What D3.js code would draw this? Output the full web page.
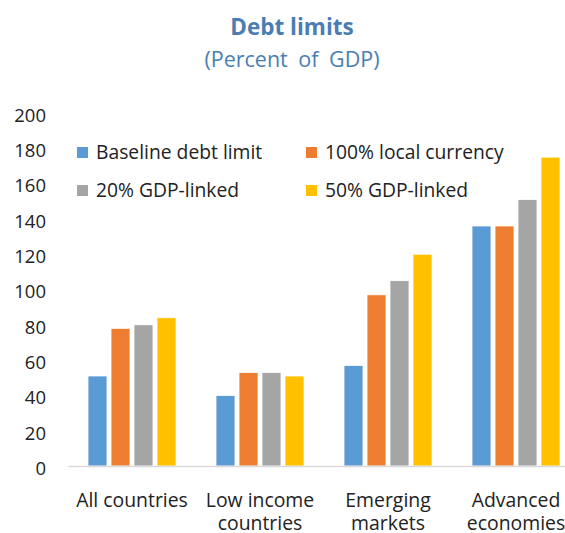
<!DOCTYPE html>
<html>
<head>
<meta charset="utf-8">
<script src="https://cdn.jsdelivr.net/npm/d3@7/dist/d3.min.js"></script>
<style>
  html, body { margin: 0; padding: 0; background: #fff; }
  svg { display: block; font-family: "Open Sans", "Noto Sans", sans-serif; }
</style>
</head>
<body>
<svg id="chart" width="565" height="533"></svg>
<script>
const title = "Debt limits";
const subtitle = "(Percent of GDP)";
const categories = [["All countries"], ["Low income", "countries"], ["Emerging", "markets"], ["Advanced", "economies"]];
const seriesNames = ["Baseline debt limit", "100% local currency", "20% GDP-linked", "50% GDP-linked"];
const seriesColors = ["#5B9BD5", "#ED7D31", "#A5A5A5", "#FFC000"];
const baseline = [51, 40, 57, 136];
const localCurrency = [78, 53, 97, 136];
const gdpLinked20 = [80, 53, 105, 151];
const gdpLinked50 = [84, 51, 120, 175];
const yTicks = [0, 20, 40, 60, 80, 100, 120, 140, 160, 180, 200];

const seriesValues = [baseline, localCurrency, gdpLinked20, gdpLinked50];
const catKeys = categories.map(c => c.join(" "));

const svg = d3.select("#chart");
const plotLeft = 68, plotRight = 580, plotTop = 113, plotBottom = 466;

const x0 = d3.scaleBand().domain(catKeys).range([plotLeft, plotRight])
  .paddingInner(0.3125).paddingOuter(0.15625);
const x1 = d3.scaleBand().domain(d3.range(seriesNames.length)).range([0, x0.bandwidth()])
  .paddingInner(0.174).paddingOuter(0);
const y = d3.scaleLinear().domain([0, 200]).range([plotBottom, plotTop]);

// Title
svg.append("text").attr("x", 292).attr("y", 35).attr("text-anchor", "middle")
  .attr("font-size", 22.5).attr("font-weight", "bold").attr("fill", "#4A7EB3").text(title);
svg.append("text").attr("x", 292).attr("y", 67).attr("text-anchor", "middle")
  .attr("font-size", 21.5).attr("word-spacing", 5).attr("fill", "#4A7EB3").text(subtitle);

// Y axis
const yAxis = svg.append("g").attr("transform", `translate(${plotLeft},0)`)
  .call(d3.axisLeft(y).tickValues(yTicks).tickSize(0).tickPadding(22));
yAxis.select(".domain").remove();
yAxis.selectAll("text").attr("font-size", 18.5).attr("fill", "#222").attr("dy", "0.45em")
  .style("font-family", "'Open Sans', sans-serif");

// Bars
const groups = svg.append("g").selectAll("g").data(catKeys).join("g")
  .attr("transform", d => `translate(${x0(d)},0)`);
groups.selectAll("rect")
  .data((d, i) => seriesValues.map((vals, s) => ({ s, v: vals[i] })))
  .join("rect")
  .attr("x", d => x1(d.s))
  .attr("width", x1.bandwidth())
  .attr("y", d => y(d.v))
  .attr("height", d => y(0) - y(d.v))
  .attr("fill", d => seriesColors[d.s])
  .attr("stroke", "#fff").attr("stroke-width", 0.8);

// X axis
const xAxis = svg.append("g").attr("transform", `translate(0,${plotBottom})`)
  .call(d3.axisBottom(x0).tickSize(0).tickFormat(""));
xAxis.select(".domain").attr("stroke", "#D9D9D9").attr("stroke-width", 1.5);
xAxis.selectAll(".tick").each(function(d, i) {
  const t = d3.select(this).append("text").attr("fill", "#222").attr("font-size", 19.4)
    .attr("text-anchor", "middle").style("font-family", "'Open Sans', sans-serif");
  categories[i].forEach((line, j) => {
    t.append("tspan").attr("x", 0).attr("y", 41 + j * 23).text(line);
  });
});

// Legend
const legendPos = [[77, 152], [306, 152], [77, 190], [306, 190]];
const legend = svg.append("g").selectAll("g").data(seriesNames).join("g")
  .attr("transform", (d, i) => `translate(${legendPos[i][0]},${legendPos[i][1]})`);
legend.append("rect").attr("x", 0).attr("y", -5).attr("width", 11).attr("height", 11)
  .attr("fill", (d, i) => seriesColors[i]);
legend.append("text").attr("x", 19).attr("y", 0).attr("dy", "0.36em")
  .attr("font-size", 19.3).attr("fill", "#222").text(d => d);
</script>
</body>
</html>
